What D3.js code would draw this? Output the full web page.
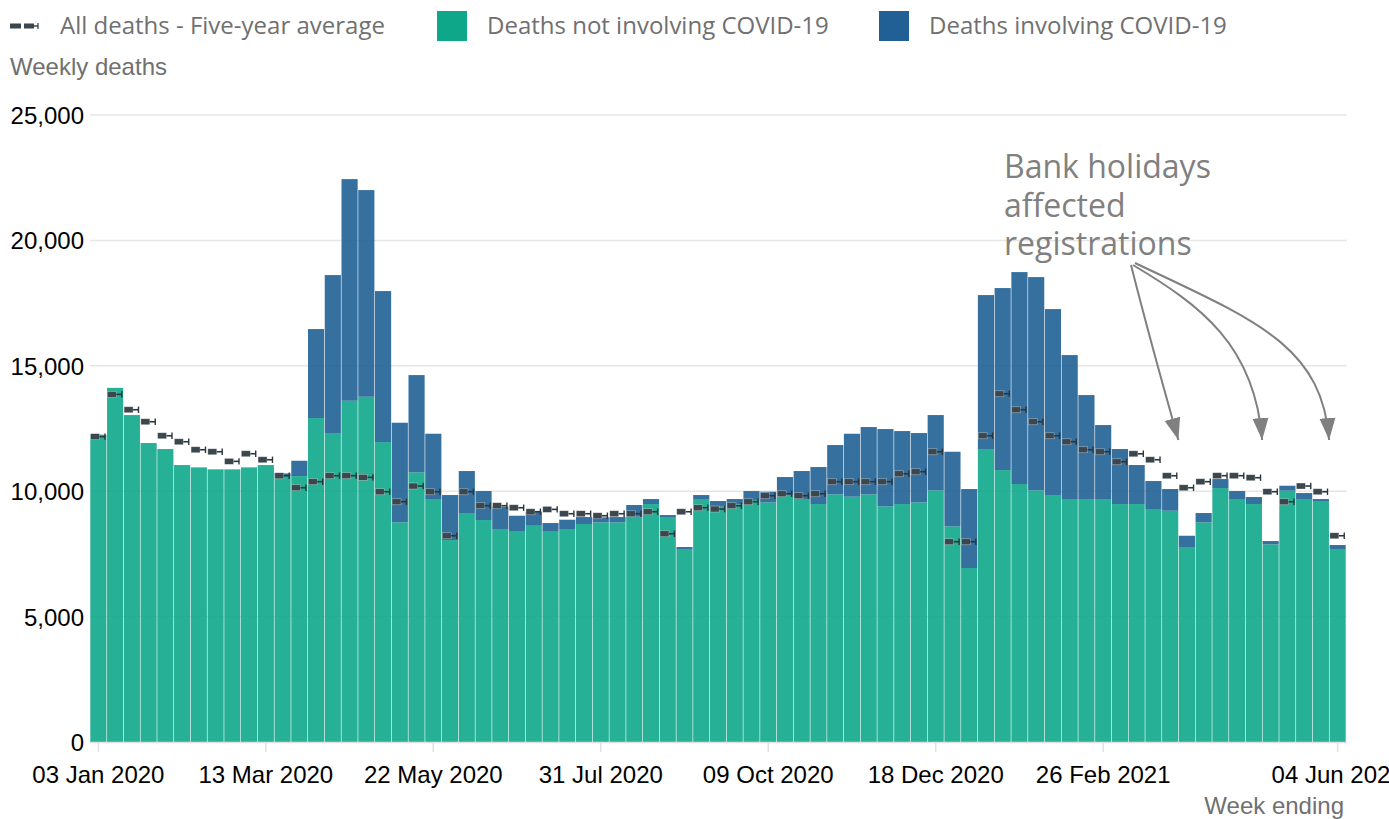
<!DOCTYPE html>
<html>
<head>
<meta charset="utf-8">
<script src="https://cdn.jsdelivr.net/npm/d3@7"></script>
<style>
  html, body { margin: 0; padding: 0; background: #fff; overflow: hidden; }
  svg { display: block; }
</style>
</head>
<body>
<svg id="chart" width="1389" height="819"></svg>
<script>
const weeks = [
  "03 Jan 2020","10 Jan 2020","17 Jan 2020","24 Jan 2020","31 Jan 2020","07 Feb 2020","14 Feb 2020","21 Feb 2020","28 Feb 2020","06 Mar 2020",
  "13 Mar 2020","20 Mar 2020","27 Mar 2020","03 Apr 2020","10 Apr 2020","17 Apr 2020","24 Apr 2020","01 May 2020","08 May 2020","15 May 2020",
  "22 May 2020","29 May 2020","05 Jun 2020","12 Jun 2020","19 Jun 2020","26 Jun 2020","03 Jul 2020","10 Jul 2020","17 Jul 2020","24 Jul 2020",
  "31 Jul 2020","07 Aug 2020","14 Aug 2020","21 Aug 2020","28 Aug 2020","04 Sep 2020","11 Sep 2020","18 Sep 2020","25 Sep 2020","02 Oct 2020",
  "09 Oct 2020","16 Oct 2020","23 Oct 2020","30 Oct 2020","06 Nov 2020","13 Nov 2020","20 Nov 2020","27 Nov 2020","04 Dec 2020","11 Dec 2020",
  "18 Dec 2020","25 Dec 2020","01 Jan 2021","08 Jan 2021","15 Jan 2021","22 Jan 2021","29 Jan 2021","05 Feb 2021","12 Feb 2021","19 Feb 2021",
  "26 Feb 2021","05 Mar 2021","12 Mar 2021","19 Mar 2021","26 Mar 2021","02 Apr 2021","09 Apr 2021","16 Apr 2021","23 Apr 2021","30 Apr 2021",
  "07 May 2021","14 May 2021","21 May 2021","28 May 2021","04 Jun 2021"
];

const deathsNotCovid = [
  12254,14120,13036,11920,11681,11043,10950,10871,10871,10950,
  11040,10610,10603,12917,12319,13607,13766,11960,8759,10752,
  9688,8053,9129,8850,8491,8384,8623,8384,8491,8691,
  8757,8757,8983,9488,8943,7668,9688,9381,9475,9648,
  9554,9847,9688,9488,9874,9781,9874,9395,9488,9554,
  10033,8597,6937,11681,10843,10285,10033,9847,9661,9688,
  9688,9488,9488,9262,9222,7774,8757,10126,9688,9488,
  7880,10020,9688,9581,7668
];

const deathsCovid = [
  0,0,0,0,0,0,0,0,0,0,
  5,100,611,3548,6298,8837,8240,6020,3971,3878,
  2603,1794,1675,1156,890,638,558,347,372,279,
  200,213,465,199,106,106,159,227,212,358,
  426,718,1116,1475,1966,2510,2684,3083,2910,2765,
  3003,2976,3149,6139,7257,8452,8504,7415,5767,4145,
  2949,2193,1555,1143,864,450,372,359,318,279,
  133,198,239,106,186
];

const fiveYearAverage = [
  12175,13860,13248,12770,12211,11972,11653,11573,11190,11494,
  11254,10616,10138,10379,10618,10618,10552,9979,9580,10206,
  9979,8224,9979,9422,9422,9341,9181,9275,9102,9102,
  9022,9102,9102,9181,8304,9181,9341,9288,9422,9580,
  9820,9899,9820,9899,10378,10378,10378,10378,10696,10776,
  11573,7985,7985,12211,13886,13248,12770,12211,11972,11653,
  11573,11174,11492,11254,10616,10138,10379,10618,10618,10538,
  9979,9580,10206,9979,8224
];

const xTickLabels = ["03 Jan 2020","13 Mar 2020","22 May 2020","31 Jul 2020","09 Oct 2020","18 Dec 2020","26 Feb 2021","04 Jun 2021"];
const yTickValues = [0, 5000, 10000, 15000, 20000, 25000];
const legendLabels = ["All deaths - Five-year average", "Deaths not involving COVID-19", "Deaths involving COVID-19"];
const annotationLines = ["Bank holidays", "affected", "registrations"];
const bankHolidayWeeks = ["02 Apr 2021", "07 May 2021", "04 Jun 2021"];

const colGreen = "#0ea789";
const colBlue = "#206095";
const colAvg = "#3b474d";
const textGrey = "#707070";

const svg = d3.select("#chart");

const x = d3.scaleBand().domain(weeks).range([90, 1346]).padding(0);
const y = d3.scaleLinear().domain([0, 25000]).range([742, 115]);
const bw = x.bandwidth();

// gridlines
svg.append("g").selectAll("line").data(yTickValues.filter(v => v > 0)).join("line")
  .attr("x1", 90).attr("x2", 1347)
  .attr("y1", d => y(d)).attr("y2", d => y(d))
  .attr("stroke", "#e6e6e6").attr("stroke-width", 1.5);

// y axis
const yAxis = svg.append("g").attr("transform", "translate(84,0)")
  .call(d3.axisLeft(y).tickValues(yTickValues).tickFormat(d3.format(",")).tickSize(0).tickPadding(0));
yAxis.select(".domain").remove();
yAxis.selectAll("text").attr("font-family", "'Liberation Sans', Arial, sans-serif")
  .attr("font-size", 24).attr("fill", "#000").attr("dy", "0.35em");

// bars
const data = weeks.map((w, i) => ({ w, nc: deathsNotCovid[i], c: deathsCovid[i], avg: fiveYearAverage[i] }));
const bars = svg.append("g");
bars.selectAll("rect.nc").data(data).join("rect").attr("class", "nc")
  .attr("x", d => x(d.w) + 0.3).attr("width", bw - 0.6)
  .attr("y", d => y(d.nc)).attr("height", d => y(0) - y(d.nc))
  .attr("fill", colGreen).attr("fill-opacity", 0.9);
bars.selectAll("rect.c").data(data.filter(d => d.c > 0)).join("rect").attr("class", "c")
  .attr("x", d => x(d.w) + 0.3).attr("width", bw - 0.6)
  .attr("y", d => y(d.nc + d.c)).attr("height", d => y(d.nc) - y(d.nc + d.c))
  .attr("fill", colBlue).attr("fill-opacity", 0.9);

// x axis baseline
svg.append("line").attr("x1", 90).attr("x2", 1347).attr("y1", 742.5).attr("y2", 742.5)
  .attr("stroke", "#e0e0e0").attr("stroke-width", 1.5);

const xAxis = svg.append("g").attr("transform", "translate(0,742)")
  .call(d3.axisBottom(x).tickValues(xTickLabels).tickSize(10).tickPadding(14));
xAxis.select(".domain").remove();
xAxis.selectAll(".tick line").attr("stroke", "#e0e0e0").attr("stroke-width", 1.5);
xAxis.selectAll("text").attr("font-family", "'Liberation Sans', Arial, sans-serif")
  .attr("font-size", 24).attr("fill", "#000");

// five-year average markers
const avgG = svg.append("g");
data.forEach(d => {
  const x0 = x(d.w), yy = y(d.avg);
  avgG.append("rect").attr("x", x0 + 0.6).attr("y", yy - 3).attr("width", 9).attr("height", 6)
    .attr("fill", colAvg).attr("stroke", "rgba(255,255,255,0.45)").attr("stroke-width", 0.7);
  avgG.append("line").attr("x1", x0 + 9.6).attr("x2", x0 + 15).attr("y1", yy).attr("y2", yy)
    .attr("stroke", "#2b363c").attr("stroke-width", 1.6);
  avgG.append("line").attr("x1", x0 + 15).attr("x2", x0 + 15).attr("y1", yy - 3.2).attr("y2", yy + 3.2)
    .attr("stroke", "#2b363c").attr("stroke-width", 1.4);
});

// legend
const lg = svg.append("g");
lg.append("rect").attr("x", 10).attr("y", 23.5).attr("width", 11).attr("height", 5).attr("fill", colAvg);
lg.append("rect").attr("x", 24).attr("y", 23.5).attr("width", 10).attr("height", 5).attr("fill", colAvg);
lg.append("line").attr("x1", 34).attr("x2", 38).attr("y1", 26).attr("y2", 26).attr("stroke", colAvg).attr("stroke-width", 1.5);
lg.append("line").attr("x1", 38).attr("x2", 38).attr("y1", 23).attr("y2", 29).attr("stroke", colAvg).attr("stroke-width", 1.3);
const legendX = [60, 487, 929];
lg.append("rect").attr("x", 437).attr("y", 11).attr("width", 30).attr("height", 30).attr("fill", colGreen);
lg.append("rect").attr("x", 879).attr("y", 11).attr("width", 30).attr("height", 30).attr("fill", colBlue);
legendLabels.forEach((t, i) => {
  lg.append("text").attr("x", legendX[i]).attr("y", 26).attr("dy", "0.35em")
    .attr("font-family", "'Open Sans', sans-serif").attr("font-size", 24).attr("fill", textGrey).text(t);
});

// axis titles
svg.append("text").attr("x", 10).attr("y", 67).attr("dy", "0.35em")
  .attr("font-family", "'Liberation Sans', Arial, sans-serif").attr("font-size", 24).attr("fill", textGrey).text("Weekly deaths");
svg.append("text").attr("x", 1344).attr("y", 806).attr("dy", "0.35em").attr("text-anchor", "end")
  .attr("font-family", "'Liberation Sans', Arial, sans-serif").attr("font-size", 24).attr("fill", textGrey).text("Week ending");

// annotation (one text block, three lines)
const ann = svg.append("g");
const annText = ann.append("text").attr("x", 1004).attr("y", 178)
  .attr("font-family", "'Open Sans', sans-serif").attr("font-size", 32).attr("fill", "#808080");
annotationLines.forEach((t, i) => {
  annText.append("tspan").attr("x", 1004).attr("dy", i === 0 ? 0 : 38.5).text(t);
});

const defs = svg.append("defs");
defs.append("marker").attr("id", "ah").attr("markerUnits", "userSpaceOnUse")
  .attr("markerWidth", 24).attr("markerHeight", 18).attr("refX", 22).attr("refY", 8)
  .attr("orient", "auto").attr("viewBox", "0 0 24 16")
  .append("path").attr("d", "M0,0 L22,8 L0,16 Z").attr("fill", "#808080");

const tipY = 440;
const arrowPaths = bankHolidayWeeks.map((w, i) => {
  const tx = x(w) + bw / 2 - 8.5;
  if (i === 0) return `M1131,265 Q1150,340 ${tx},${tipY}`;
  if (i === 1) return `M1133,265 C1200,305 1255,345 ${tx},${tipY}`;
  return `M1135,263 C1255,320 1322,345 ${tx},${tipY}`;
});
ann.selectAll("path.arrow").data(arrowPaths).join("path").attr("class", "arrow")
  .attr("d", d => d).attr("fill", "none").attr("stroke", "#808080").attr("stroke-width", 2)
  .attr("marker-end", "url(#ah)");
</script>
</body>
</html>
